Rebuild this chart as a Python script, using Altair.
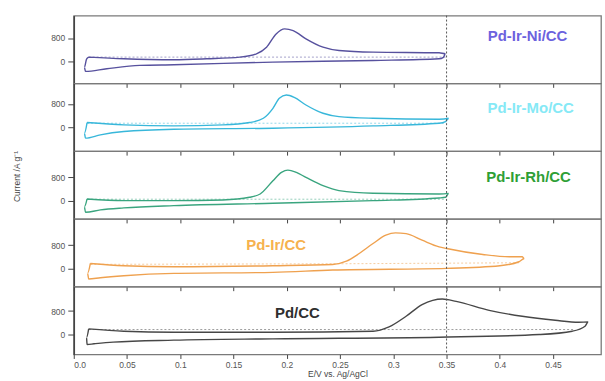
import altair as alt
import pandas as pd

# ---------------- data ----------------
x_ticks = [0.0, 0.05, 0.1, 0.15, 0.2, 0.25, 0.3, 0.35, 0.4, 0.45]
y_ticks = [0, 800]

names = ["Pd-Ir-Ni/CC", "Pd-Ir-Mo/CC", "Pd-Ir-Rh/CC", "Pd-Ir/CC", "Pd/CC"]
line_colors = ["#57519e", "#38b7da", "#3aa57f", "#efa14f", "#474747"]
label_colors = ["#6c62de", "#86e9f6", "#2e9f35", "#f6b24e", "#2e2e2e"]
label_x = [0.426, 0.429, 0.427, 0.190, 0.210]
label_y = [884, 646, 816, 820, 748]

ni_x = [0.014, 0.047, 0.094, 0.125, 0.156, 0.1715, 0.181, 0.19, 0.198, 0.206, 0.218, 0.234, 0.249, 0.281, 0.343, 0.349,
        0.347, 0.343, 0.281, 0.187, 0.094, 0.062, 0.031, 0.011, 0.010, 0.012, 0.014]
ni_y = [147, 90, 57, 90, 147, 260, 487, 941, 1111, 1054, 771, 487, 374, 317, 295, 260,
        140, 90, 34, -23, -113, -136, -249, -340, -200, 80, 147]
ni_bx = [0.014, 0.35]
ni_by = [147, 147]

mo_x = [0.0125, 0.047, 0.094, 0.14, 0.165, 0.178, 0.187, 0.193, 0.1996, 0.207, 0.218, 0.234, 0.249, 0.281, 0.343, 0.352,
        0.349, 0.343, 0.281, 0.187, 0.094, 0.047, 0.025, 0.011, 0.010, 0.0125]
mo_y = [159, 79, 45, 79, 159, 306, 646, 986, 1099, 1020, 759, 476, 363, 306, 272, 306,
        192, 136, 45, -34, -68, -147, -261, -374, -200, 159]
mo_bx = [0.0125, 0.35]
mo_by = [136, 136]

rh_x = [0.0125, 0.047, 0.094, 0.14, 0.165, 0.175, 0.187, 0.195, 0.201, 0.209, 0.218, 0.234, 0.249, 0.281, 0.343, 0.352,
        0.349, 0.343, 0.281, 0.187, 0.094, 0.047, 0.025, 0.011, 0.010, 0.0125]
rh_y = [68, 11, 11, 34, 125, 238, 691, 975, 1054, 975, 805, 522, 352, 261, 238, 261,
        125, 102, 11, -79, -159, -238, -306, -385, -200, 68]
rh_bx = [0.0125, 0.35]
rh_by = [60, 60]

ir_x = [0.0156, 0.047, 0.094, 0.187, 0.243, 0.256, 0.268, 0.281, 0.293, 0.302, 0.312, 0.327, 0.343, 0.35, 0.384, 0.409,
        0.421, 0.423, 0.418, 0.40, 0.35, 0.243, 0.187, 0.094, 0.047, 0.025, 0.014, 0.013, 0.0156]
ir_y = [181, 102, 68, 102, 147, 261, 521, 861, 1145, 1224, 1201, 975, 748, 691, 487, 408,
        408, 351, 238, 102, 11, -45, -125, -159, -238, -306, -351, -150, 181]
ir_bx = [0.0156, 0.25, 0.42]
ir_by = [150, 170, 204]

pd_x = [0.014, 0.047, 0.094, 0.187, 0.281, 0.296, 0.312, 0.327, 0.337, 0.346, 0.359, 0.39, 0.421, 0.452, 0.474, 0.483,
        0.48, 0.468, 0.437, 0.343, 0.187, 0.094, 0.037, 0.019, 0.0125, 0.012, 0.014]
pd_y = [193, 113, 79, 79, 113, 261, 623, 1020, 1167, 1213, 1133, 827, 623, 487, 419, 431,
        283, 113, 0, -91, -147, -193, -261, -317, -340, -100, 193]
pd_bx = [0.014, 0.47]
pd_by = [170, 170]

curves = [(ni_x, ni_y, ni_bx, ni_by), (mo_x, mo_y, mo_bx, mo_by), (rh_x, rh_y, rh_bx, rh_by),
          (ir_x, ir_y, ir_bx, ir_by), (pd_x, pd_y, pd_bx, pd_by)]
y_domains = [[-749, 1566], [-817, 1498], [-613, 1702], [-613, 1702], [-681, 1634]]
marker_e = [0.35]

PANEL_W = 529
PANEL_H = 68
x_scale = alt.Scale(domain=[0, 0.495], nice=False, zero=False)


def make_panel(i):
    xs, ys, bx, by = curves[i]
    last = i == len(curves) - 1
    df = pd.DataFrame({"E": xs, "I": ys, "k": list(range(len(xs)))})
    bdf = pd.DataFrame({"E": bx, "I": by, "k": list(range(len(bx)))})
    if last:
        xaxis = alt.Axis(values=x_ticks, title="E/V vs. Ag/AgCl", tickSize=4, labelPadding=2,
                         labelExpr="datum.value == 0 ? '0.0' : format(datum.value, '.2~f')",
                         domain=False, titlePadding=1, grid=False)
    else:
        xaxis = alt.Axis(values=x_ticks, title=None, labels=False, tickSize=4, domain=False, grid=False)
    yargs = dict(values=y_ticks, tickSize=6, labelPadding=3, grid=False, domainWidth=1.6,
                 domainColor="#444")
    if i == 2:
        yaxis = alt.Axis(title="Current /A g⁻¹", titleX=-52, titleY=25, **yargs)
    else:
        yaxis = alt.Axis(title=None, **yargs)
    yscale = alt.Scale(domain=y_domains[i], nice=False, zero=False)

    blank = alt.Chart(bdf).mark_line(strokeDash=[2, 2], strokeWidth=0.9, color=line_colors[i],
                                     opacity=0.6).encode(
        x=alt.X("E:Q", scale=x_scale, axis=xaxis),
        y=alt.Y("I:Q", scale=yscale, axis=yaxis),
        order="k:Q",
    )
    cv = alt.Chart(df).mark_line(strokeWidth=1.4, color=line_colors[i], interpolate="monotone").encode(
        x=alt.X("E:Q", scale=x_scale, axis=xaxis),
        y=alt.Y("I:Q", scale=yscale, axis=yaxis),
        order="k:Q",
    )
    rule = alt.Chart(pd.DataFrame({"E": marker_e})).mark_rule(
        strokeDash=[2, 2], color="#555", strokeWidth=1).encode(x=alt.X("E:Q", scale=x_scale, axis=xaxis))
    label = alt.Chart(pd.DataFrame({"E": [label_x[i]], "I": [label_y[i]], "t": [names[i]]})).mark_text(
        font="Liberation Sans", fontWeight="bold", fontSize=15, color=label_colors[i]).encode(
        x=alt.X("E:Q", scale=x_scale, axis=xaxis),
        y=alt.Y("I:Q", scale=yscale, axis=yaxis),
        text="t:N",
    )
    return alt.layer(blank, cv, rule, label).properties(width=PANEL_W, height=PANEL_H)


chart = alt.vconcat(*[make_panel(i) for i in range(5)], spacing=0, bounds="flush").properties(
    padding={"left": 12, "top": 13, "right": 3, "bottom": 2},
).configure_view(
    stroke="#7a7a7a", strokeWidth=1.3
).configure_axis(
    labelFont="Liberation Sans", titleFont="Liberation Sans", labelFontSize=8.5, titleFontSize=8.5,
    labelColor="#555", titleColor="#444", tickColor="#444", titleFontWeight="normal"
)

chart.save("out.html", embed_options={"renderer": "svg", "actions": False})
